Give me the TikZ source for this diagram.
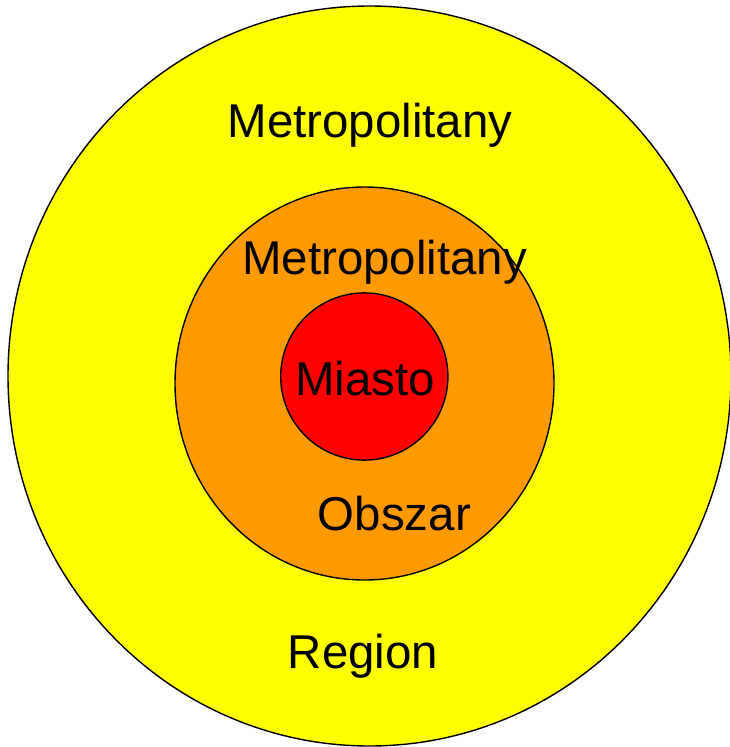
\documentclass[tikz,border=0pt]{standalone}
\usepackage{fontspec}
\setmainfont{Liberation Sans}
\usepackage{tikz}
\definecolor{zoneyellow}{HTML}{FFFF00}
\definecolor{zoneorange}{HTML}{FF9900}
\definecolor{zonered}{HTML}{FF0000}
\tikzset{
    zone/.style={draw=black, line width=0.8pt},
    label/.style={anchor=base, inner sep=0pt, font=\fontsize{27}{31}\selectfont}
}
\begin{document}
\begin{tikzpicture}[x=0.02cm, y=-0.02cm]
    \useasboundingbox (0,0) rectangle (730,747);
    \draw[zone, fill=zoneyellow] (369.5,376) ellipse [x radius=361.5, y radius=370];
    \draw[zone, fill=zoneorange] (364.5,383.5) ellipse [x radius=189.5, y radius=196.5];
    \draw[zone, fill=zonered] (364.3,376.5) circle [radius=83.6];
    \node(region_top)[label] at (370,137) {Metropolitany};
    \node(area_top)[label] at (384.7,274) {Metropolitany};
    \node(city)[label] at (365,395) {Miasto};
    \node(area_bottom)[label] at (394.4,530) {Obszar};
    \node(region_bottom)[label] at (363,668) {Region};
\end{tikzpicture}
\end{document}
